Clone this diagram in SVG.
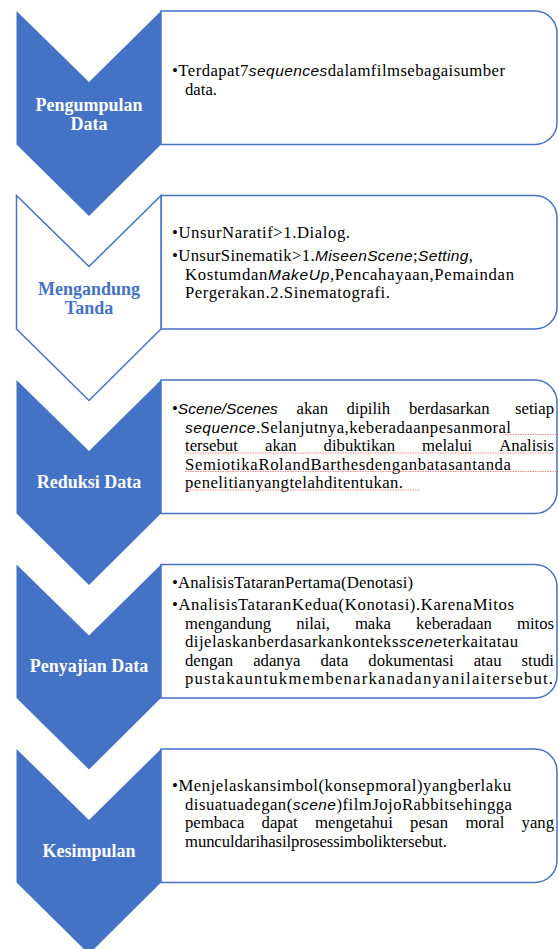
<svg xmlns="http://www.w3.org/2000/svg" width="558" height="949" viewBox="0 0 558 949">
<style>
.bg{fill:#fff}
.chev{fill:#4472C4}
.chevo{fill:#fff;stroke:#4472C4;stroke-width:1.5}
.box{fill:#fff;stroke:#4472C4;stroke-width:1.5}
.lbl{font-family:'Liberation Serif',serif;font-weight:bold;font-size:18px;fill:#fff;text-anchor:middle}
.lblb{fill:#4472C4}
.t{font-family:'Liberation Serif',serif;font-size:16.7px;fill:#000}
.i{font-family:'Liberation Sans',sans-serif;font-style:italic;font-size:15.5px}
.e{text-anchor:end}
.sq{stroke:#f08a8a;stroke-width:1;stroke-dasharray:1.5 1;fill:none}
</style>
<rect class="bg" width="558" height="949"/>
<g id="connectors"></g>

<g id="step1">
<path class="box" d="M161,11 H535 A22,22 0 0 1 557,33 V122.5 A22,22 0 0 1 535,144.5 H161 Z"/>
<polygon class="chev" points="16.5,11 89,82 161,11 161,144.5 89,216 16.5,144.5"/>
<text class="lbl" x="89" y="110.5">Pengumpulan</text>
<text class="lbl" x="89" y="129.5">Data</text>
<text class="t" x="172" y="76" textLength="333" lengthAdjust="spacing">•Terdapat7<tspan class="i">sequences</tspan>dalamfilmsebagaisumber</text>
<text class="t" x="185" y="95">data.</text>
</g>

<g id="step2">
<path class="box" d="M161,195.5 H535 A22,22 0 0 1 557,217.5 V307 A22,22 0 0 1 535,329 H161 Z"/>
<polygon class="chevo" points="16.5,195.5 89,266.5 161,195.5 161,329 89,400.5 16.5,329"/>
<text class="lbl lblb" x="89" y="295">Mengandung</text>
<text class="lbl lblb" x="89" y="314">Tanda</text>
<text class="t" x="172" y="238" textLength="178" lengthAdjust="spacing">•UnsurNaratif&gt;1.Dialog.</text>
<text class="t" x="172" y="261" textLength="301" lengthAdjust="spacing">•UnsurSinematik&gt;1.<tspan class="i">MiseenScene</tspan>;<tspan class="i">Setting</tspan>,</text>
<text class="t" x="185" y="279.5" textLength="329" lengthAdjust="spacing">Kostumdan<tspan class="i">MakeUp</tspan>,Pencahayaan,Pemaindan</text>
<text class="t" x="185" y="298" textLength="205" lengthAdjust="spacing">Pergerakan.2.Sinematografi.</text>
</g>

<g id="step3">
<path class="box" d="M161,380 H535 A22,22 0 0 1 557,402 V491.5 A22,22 0 0 1 535,513.5 H161 Z"/>
<polygon class="chev" points="16.5,380 89,451 161,380 161,513.5 89,585 16.5,513.5"/>
<text class="lbl" x="89" y="488">Reduksi Data</text>
<text class="t" x="172" y="414">•<tspan class="i">Scene/Scenes</tspan></text>
<text class="t" x="296.5" y="414">akan</text>
<text class="t" x="346.5" y="414">dipilih</text>
<text class="t" x="409" y="414">berdasarkan</text>
<text class="t e" x="554" y="414">setiap</text>
<text class="t" x="185" y="432.5" textLength="326" lengthAdjust="spacing"><tspan class="i">sequence</tspan>.Selanjutnya,keberadaanpesanmoral</text>
<text class="t" x="185" y="451">tersebut</text>
<text class="t" x="265" y="451">akan</text>
<text class="t" x="323.6" y="451">dibuktikan</text>
<text class="t" x="422.1" y="451">melalui</text>
<text class="t e" x="554" y="451">Analisis</text>
<text class="t" x="185" y="469.5" textLength="326" lengthAdjust="spacing">SemiotikaRolandBarthesdenganbatasantanda</text>
<text class="t" x="185" y="488" textLength="218" lengthAdjust="spacing">penelitianyangtelahditentukan.</text>
<line class="sq" x1="505" y1="434.5" x2="557" y2="434.5"/>
<line class="sq" x1="185" y1="453" x2="557" y2="453"/>
<line class="sq" x1="185" y1="471.5" x2="557" y2="471.5"/>
<line class="sq" x1="185" y1="490" x2="420" y2="490"/>
</g>

<g id="step4">
<path class="box" d="M161,564.5 H535 A22,22 0 0 1 557,586.5 V676 A22,22 0 0 1 535,698 H161 Z"/>
<polygon class="chev" points="16.5,564.5 89,635.5 161,564.5 161,698 89,769.5 16.5,698"/>
<text class="lbl" x="89" y="672">Penyajian Data</text>
<text class="t" x="172" y="587.5" textLength="241" lengthAdjust="spacing">•AnalisisTataranPertama(Denotasi)</text>
<text class="t" x="172" y="610" textLength="342" lengthAdjust="spacing">•AnalisisTataranKedua(Konotasi).KarenaMitos</text>
<text class="t" x="185" y="628.5">mengandung</text>
<text class="t" x="296.2" y="628.5">nilai,</text>
<text class="t" x="354.9" y="628.5">maka</text>
<text class="t" x="416" y="628.5">keberadaan</text>
<text class="t e" x="554" y="628.5">mitos</text>
<text class="t" x="185" y="647" textLength="333" lengthAdjust="spacing">dijelaskanberdasarkankonteks<tspan class="i">scene</tspan>terkaitatau</text>
<text class="t" x="185" y="665.5">dengan</text>
<text class="t" x="253.2" y="665.5">adanya</text>
<text class="t" x="320.5" y="665.5">data</text>
<text class="t" x="368.3" y="665.5">dokumentasi</text>
<text class="t" x="473.7" y="665.5">atau</text>
<text class="t e" x="554" y="665.5">studi</text>
<text class="t" x="185" y="684" textLength="368" lengthAdjust="spacing">pustakauntukmembenarkanadanyanilaitersebut.</text>
</g>

<g id="step5">
<path class="box" d="M161,749 H535 A22,22 0 0 1 557,771 V860.5 A22,22 0 0 1 535,882.5 H161 Z"/>
<polygon class="chev" points="16.5,749 89,820 161,749 161,882.5 89,954 16.5,882.5"/>
<text class="lbl" x="89" y="856.5">Kesimpulan</text>
<text class="t" x="172" y="791" textLength="339" lengthAdjust="spacing">•Menjelaskansimbol(konsepmoral)yangberlaku</text>
<text class="t" x="185" y="809.5" textLength="327" lengthAdjust="spacing">disuatuadegan(<tspan class="i">scene</tspan>)filmJojoRabbitsehingga</text>
<text class="t" x="185" y="828">pembaca</text>
<text class="t" x="261.6" y="828">dapat</text>
<text class="t" x="315" y="828">mengetahui</text>
<text class="t" x="410.1" y="828">pesan</text>
<text class="t" x="465.4" y="828">moral</text>
<text class="t e" x="554" y="828">yang</text>
<text class="t" x="185" y="846.5" textLength="262" lengthAdjust="spacing">munculdarihasilprosessimboliktersebut.</text>
</g>
</svg>
